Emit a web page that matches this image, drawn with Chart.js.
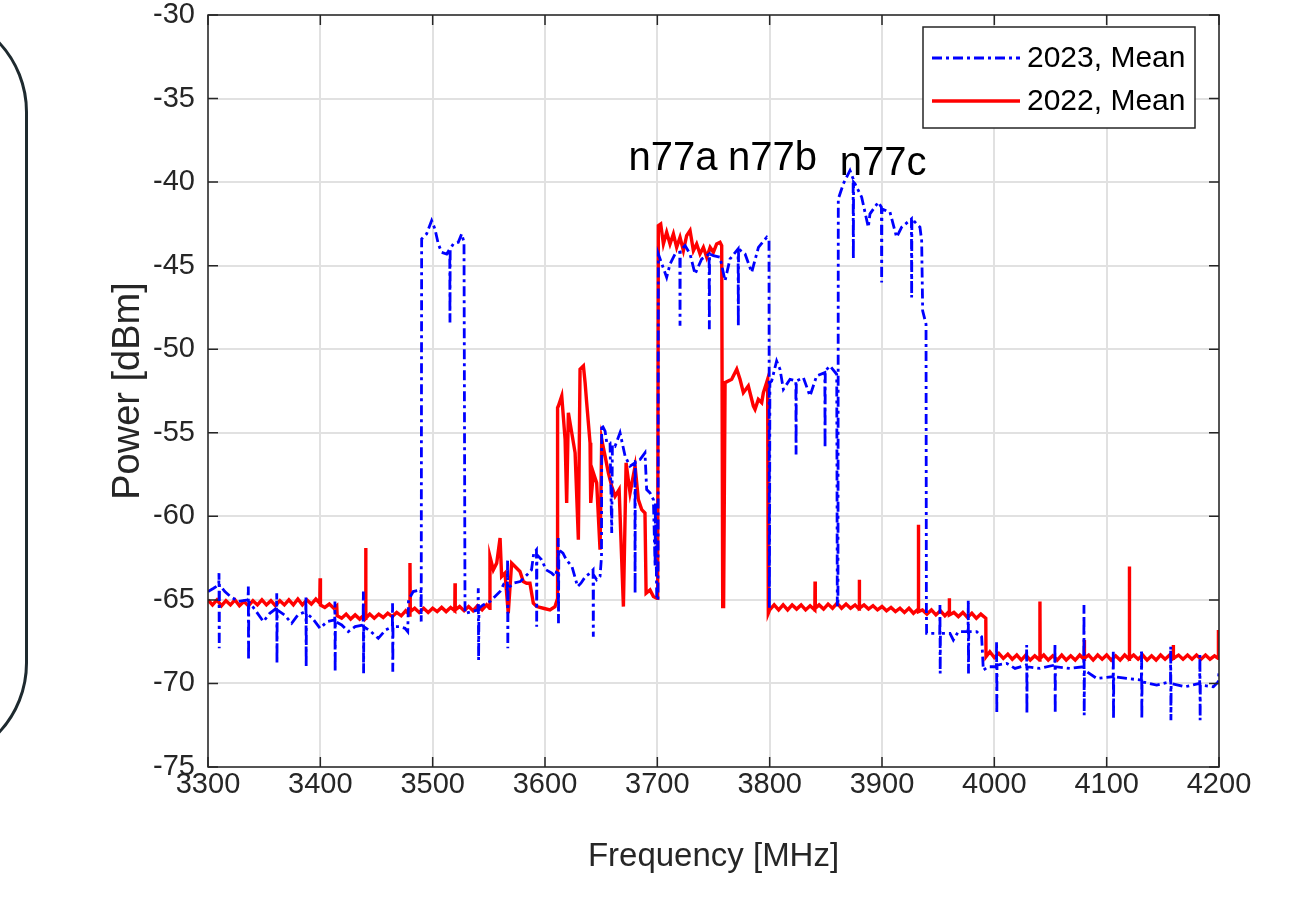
<!DOCTYPE html>
<html lang="en">

<head>
    <meta charset="UTF-8">
    <title>Spectrum Mean Power</title>
    <script src="https://cdn.jsdelivr.net/npm/chart.js@4.4.0/dist/chart.umd.min.js"></script>
    <style>
        body { margin: 0; background: #fff; overflow: hidden; }
        #wrap { position: relative; width: 1292px; height: 898px; }
        #frame {
            position: absolute; left: -178px; top: 9px; width: 200px; height: 751px;
            border: 3px solid #1e2a2f; border-radius: 110px;
        }
    </style>
</head>

<body>
    <div id="wrap">
        <div id="frame"></div>
        <canvas id="myChart" width="1292" height="898"></canvas>
    </div>

    <script>
        // axis ticks
        const freqTicks = [3300, 3400, 3500, 3600, 3700, 3800, 3900, 4000, 4100, 4200];
        const powerTicks = [-75, -70, -65, -60, -55, -50, -45, -40, -35, -30];

        const seriesNames = ['2023, Mean', '2022, Mean'];

        const bandLabels = ['n77a', 'n77b', 'n77c'];
        const bandFreq = [3714, 3802.5, 3901];
        const bandLevel = [-39.3, -39.3, -39.6];

        // 2023 mean, [MHz, dBm]
        const mean2023 = [
            [3300, -64.5], [3305, -64.3], [3309.6, -64.1], [3309.8, -63.4], [3310, -67.9], [3310.2, -64.1],
            [3315, -64.5], [3320, -64.8], [3327, -65.1], [3335.7, -65.0], [3335.9, -64.2], [3336.1, -68.6],
            [3336.3, -65.1], [3342, -65.6], [3349.3, -66.3], [3355, -65.8], [3361, -65.5], [3361.2, -64.6],
            [3361.4, -68.8], [3361.6, -65.6], [3368, -65.9], [3374.5, -66.4], [3380, -65.9], [3387, -65.7],
            [3387.2, -64.8], [3387.4, -69.0], [3387.6, -65.8], [3393, -66.1], [3399.7, -66.7], [3406, -66.3],
            [3412.8, -66.2], [3413, -65.1], [3413.2, -69.3], [3413.4, -66.3], [3419, -66.5], [3424.9, -66.9],
            [3431, -66.6], [3438.1, -66.5], [3438.3, -64.5], [3438.5, -69.4], [3438.7, -66.6], [3445, -66.9],
            [3451.6, -67.3], [3458, -66.8], [3464.1, -66.6], [3464.3, -65.2], [3464.5, -69.3], [3464.7, -66.6],
            [3470, -66.6], [3475.4, -66.7], [3477.8, -66.9], [3478.5, -65.0], [3482.7, -64.5], [3489.5, -64.4],
            [3489.8, -66.3], [3490.2, -43.4], [3494.6, -43.1], [3499.1, -42.3], [3502, -42.8], [3505, -43.7],
            [3508, -44.2], [3512.5, -44.3], [3515.2, -44.0], [3515.4, -48.4], [3515.6, -44.0], [3518.4, -43.7],
            [3522.8, -43.6], [3525.8, -43.1], [3527.9, -43.6], [3528.8, -65.8], [3535, -65.7], [3540.3, -65.6],
            [3540.6, -64.3], [3540.9, -68.6], [3541.2, -65.5], [3545, -65.3], [3551, -65.1], [3555.5, -64.8],
            [3560, -64.5], [3563, -64.1], [3566.5, -64.4], [3566.7, -62.6], [3566.9, -67.9], [3567.1, -64.3],
            [3572, -64.0], [3578, -63.9], [3584, -63.5], [3588, -63.2], [3590, -62.2], [3592.4, -62.0],
            [3592.6, -66.6], [3592.8, -62.3], [3597, -62.6], [3601, -63.2], [3606, -63.4], [3609, -63.6],
            [3611.5, -63.0], [3611.8, -61.3], [3612, -66.4], [3612.3, -62.0], [3616, -62.2], [3619, -62.6],
            [3624, -63.0], [3629, -64.2], [3632, -64.0], [3636, -63.6], [3640, -63.4], [3642.8, -63.2],
            [3643, -67.2], [3643.2, -63.5], [3646, -63.8], [3649, -63.6], [3650.3, -62.4], [3650.5, -54.5],
            [3653.5, -54.9], [3655, -55.6], [3657.9, -55.6], [3659.4, -61.0], [3660, -55.7], [3662.4, -55.8],
            [3666.8, -55.0], [3671.3, -56.4], [3675.7, -57.0], [3680, -56.8], [3680.2, -64.6], [3680.4, -56.7],
            [3684.6, -56.6], [3689, -56.2], [3690.5, -58.4], [3693.5, -58.6], [3696.5, -59.0], [3698, -63.0],
            [3698.3, -59.2], [3699.5, -65.0], [3700.6, -65.0], [3700.9, -44.3], [3708.3, -45.7], [3711.3, -44.9],
            [3715.8, -44.3], [3720, -44.2], [3720.2, -48.6], [3720.4, -44.1], [3724.7, -43.8], [3729.1, -44.3],
            [3733.6, -45.5], [3739.5, -44.6], [3746.1, -44.3], [3746.3, -48.8], [3746.5, -44.3], [3749.9, -44.4],
            [3755.8, -44.5], [3760.3, -45.9], [3764.7, -44.6], [3771.9, -44.0], [3772.1, -48.6], [3772.3, -44.0],
            [3778.1, -44.3], [3784, -45.4], [3790, -43.9], [3797.4, -43.3], [3799.4, -43.5], [3799.8, -65.5],
            [3800.2, -52.0], [3801.8, -51.9], [3806.2, -50.7], [3809.2, -51.2], [3812.2, -52.4], [3818.1, -51.8],
            [3823.3, -51.9], [3823.5, -56.3], [3823.7, -51.9], [3830, -51.7], [3835.9, -52.8], [3841.8, -51.6],
            [3849.1, -51.4], [3849.3, -55.9], [3849.5, -51.3], [3853.7, -51.0], [3859.7, -51.5], [3860.2, -65.3],
            [3860.8, -65.4], [3861.1, -41.0], [3865.6, -40.1], [3871.5, -39.3], [3874.3, -39.8], [3874.5, -44.6],
            [3874.7, -40.0], [3876, -40.1], [3881.9, -40.9], [3887.8, -42.7], [3889.3, -41.9], [3896.7, -41.2],
            [3899.5, -41.5], [3899.7, -46.0], [3899.9, -41.6], [3907.1, -41.8], [3913, -43.3], [3917.5, -42.7],
            [3926.2, -42.2], [3926.4, -46.9], [3926.6, -42.2], [3933.8, -42.7], [3935.3, -43.5], [3936.2, -47.7],
            [3939.2, -48.5], [3939.5, -65.3], [3939.7, -67.0], [3945, -67.0], [3951.4, -67.0], [3951.6, -65.3],
            [3951.8, -69.4], [3952, -67.0], [3960.5, -67.0], [3963.5, -67.4], [3967.9, -66.9], [3976.6, -66.9],
            [3976.8, -65.0], [3977, -69.4], [3977.2, -66.9], [3984.2, -66.9], [3988.7, -67.2], [3990.2, -69.2],
            [3994.6, -69.0], [4001.8, -69.0], [4002, -67.5], [4002.2, -71.8], [4002.4, -68.9], [4011, -68.8],
            [4018.4, -69.1], [4028.6, -68.9], [4028.8, -67.7], [4029, -71.8], [4029.2, -69.0], [4040.6, -69.1],
            [4053.8, -68.9], [4054, -67.6], [4054.2, -71.8], [4054.4, -69.0], [4067.3, -69.1], [4079.6, -69.0],
            [4079.8, -65.3], [4080, -71.9], [4080.2, -69.2], [4091.1, -69.7], [4105.7, -69.6], [4105.9, -68.0],
            [4106.1, -72.1], [4106.3, -69.6], [4117.8, -69.7], [4130.9, -69.8], [4131.1, -68.0], [4131.3, -72.1],
            [4131.5, -69.9], [4144.5, -70.1], [4156.8, -69.9], [4157, -67.8], [4157.2, -72.2], [4157.4, -70.0],
            [4169.7, -70.2], [4182.8, -70.0], [4183, -68.3], [4183.2, -72.2], [4183.4, -70.1], [4195, -70.2],
            [4199.4, -69.9], [4200, -69.3]
        ];

        // 2022 mean, [MHz, dBm]
        const mean2022 = [
            [3300, -65.0], [3304, -65.3], [3308, -65.0], [3312, -65.35], [3316, -65.05], [3320, -65.3],
            [3324, -65.0], [3328, -65.35], [3332, -65.1], [3336, -65.35], [3340, -65.05], [3344, -65.3],
            [3348, -65.0], [3352, -65.3], [3356, -65.05], [3360, -65.35], [3364, -65.05], [3368, -65.3],
            [3372, -65.0], [3376, -65.3], [3380, -64.95], [3384, -65.3], [3388, -65.0], [3392, -65.25],
            [3396, -64.95], [3399.5, -65.2], [3399.8, -63.7], [3400.1, -65.3], [3404, -65.45], [3408, -65.25],
            [3412, -65.5], [3414.6, -65.35], [3415, -65.95], [3419, -66.1], [3423, -65.85], [3427, -66.15],
            [3431, -65.9], [3435, -66.15], [3439, -65.9], [3440.2, -66.1], [3440.4, -61.9], [3440.6, -66.1],
            [3444, -65.85], [3448, -66.1], [3452, -65.85], [3456, -66.05], [3460, -65.8], [3464, -66.0],
            [3468, -65.75], [3472, -65.95], [3476, -65.65], [3479.6, -65.9], [3479.8, -62.8], [3480.1, -65.7],
            [3484, -65.5], [3488, -65.75], [3492, -65.5], [3496, -65.75], [3500, -65.5], [3504, -65.7],
            [3508, -65.45], [3512, -65.7], [3516, -65.45], [3519.7, -65.65], [3519.9, -64.0], [3520.1, -65.6],
            [3524, -65.4], [3528, -65.65], [3532, -65.4], [3536, -65.65], [3540, -65.35], [3544, -65.6],
            [3548, -65.3], [3550.7, -65.5], [3551, -62.4], [3554, -63.2], [3557, -62.8], [3560, -61.3],
            [3561.4, -63.6], [3564.4, -63.4], [3567.3, -65.8], [3570.3, -62.8], [3573.3, -63.0], [3577.7, -63.3],
            [3580.7, -63.9], [3583.6, -64.0], [3586.6, -64.0], [3589.6, -65.2], [3592.6, -65.4], [3598.5, -65.5],
            [3604.4, -65.6], [3608.9, -65.4], [3610.8, -65.0], [3611.2, -53.5], [3611.9, -53.4], [3614.9, -52.8],
            [3617.9, -55.4], [3619.3, -59.2], [3620.8, -53.8], [3623.8, -55.0], [3626.8, -56.2], [3629.7, -61.4],
            [3631.2, -51.2], [3634.2, -51.0], [3635.7, -52.0], [3637.1, -53.2], [3640.1, -55.6], [3640.7, -59.2],
            [3643.1, -57.4], [3646, -58.0], [3649, -62.0], [3650.5, -55.4], [3653.5, -56.4], [3656.4, -57.4],
            [3659.4, -58.2], [3662.4, -58.8], [3666, -58.4], [3669.8, -65.4], [3672.2, -56.8], [3675.7, -58.6],
            [3680.2, -57.0], [3683.1, -59.0], [3686.1, -59.6], [3689, -59.8], [3690, -64.6], [3693.5, -64.4],
            [3696.5, -64.8], [3699.5, -64.9], [3700.3, -64.9], [3700.9, -42.6], [3703, -42.5], [3705.4, -43.7],
            [3708.3, -43.0], [3711.3, -43.7], [3714.3, -43.1], [3717.2, -43.9], [3720.2, -43.3], [3723.2, -44.1],
            [3726.1, -43.2], [3729.1, -42.9], [3732.1, -44.1], [3735, -43.7], [3738, -44.3], [3741, -43.9],
            [3744, -44.5], [3747, -43.9], [3749.9, -44.2], [3752.8, -43.7], [3755.8, -43.6], [3757.3, -43.8],
            [3758.2, -65.4], [3759, -65.4], [3760.3, -52.0], [3766.2, -51.8], [3770.7, -51.2], [3773.6, -51.8],
            [3776.6, -52.6], [3781, -52.2], [3785.5, -53.4], [3787, -53.6], [3789.9, -53.0], [3792.9, -53.2],
            [3794.4, -52.6], [3797.3, -52.0], [3798.2, -51.8], [3798.8, -65.8], [3800, -65.6], [3804, -65.3],
            [3808, -65.6], [3812, -65.3], [3816, -65.6], [3820, -65.3], [3824, -65.55], [3828, -65.3],
            [3832, -65.6], [3836, -65.35], [3840.2, -65.6], [3840.4, -63.9], [3840.6, -65.5], [3844, -65.3],
            [3848, -65.55], [3852, -65.25], [3856, -65.5], [3860, -65.2], [3864, -65.5], [3868, -65.25],
            [3872, -65.5], [3876, -65.3], [3879.6, -65.55], [3879.8, -63.8], [3880, -65.5], [3884, -65.3],
            [3888, -65.55], [3892, -65.35], [3896, -65.6], [3900, -65.4], [3904, -65.65], [3908, -65.45],
            [3912, -65.7], [3916, -65.5], [3920, -65.75], [3924, -65.5], [3928, -65.8], [3932.2, -65.55],
            [3932.4, -60.5], [3932.6, -65.7], [3936, -65.6], [3940, -65.85], [3944, -65.6], [3948, -65.9],
            [3952, -65.65], [3956, -65.95], [3959.7, -65.7], [3959.9, -64.9], [3960.1, -65.9], [3964, -65.75],
            [3968, -66.0], [3972, -65.75], [3976, -66.05], [3980, -65.8], [3984, -66.1], [3988, -65.85],
            [3992.4, -66.1], [3992.6, -68.4], [3996, -68.1], [4000, -68.45], [4004, -68.2], [4008, -68.5],
            [4012, -68.25], [4016, -68.55], [4020, -68.3], [4024, -68.6], [4028, -68.3], [4032, -68.6],
            [4036, -68.35], [4040.4, -68.6], [4040.6, -65.1], [4040.8, -68.5], [4044, -68.3], [4048, -68.6],
            [4052, -68.35], [4056, -68.6], [4060, -68.3], [4064, -68.6], [4068, -68.35], [4072, -68.6],
            [4076, -68.3], [4079.9, -68.55], [4080.1, -67.4], [4080.3, -68.5], [4084, -68.3], [4088, -68.6],
            [4092, -68.3], [4096, -68.55], [4100, -68.3], [4104, -68.6], [4108, -68.35], [4112, -68.6],
            [4116, -68.3], [4120, -68.55], [4120.2, -63.0], [4120.4, -68.5], [4124, -68.3], [4128, -68.55],
            [4132, -68.3], [4136, -68.6], [4140, -68.35], [4144, -68.6], [4148, -68.3], [4152, -68.55],
            [4156, -68.3], [4159.1, -68.5], [4159.3, -67.7], [4159.5, -68.5], [4164, -68.3], [4168, -68.55],
            [4172, -68.3], [4176, -68.55], [4180, -68.3], [4184, -68.55], [4188, -68.3], [4192, -68.55],
            [4196, -68.35], [4199.2, -68.5], [4199.5, -66.9], [4200, -66.9]
        ];

        const AXIS = '#262626';
        const FONT = "'Liberation Sans', Arial, sans-serif";

        // box, inward ticks, legend and band labels drawn over the data
        const overlay = {
            id: 'overlay',
            afterDatasetsDraw(chart) {
                const ctx = chart.ctx;
                const a = chart.chartArea;
                const xs = chart.scales.x, ys = chart.scales.y;
                ctx.save();
                ctx.strokeStyle = AXIS;
                ctx.lineWidth = 1.5;
                ctx.strokeRect(a.left, a.top, a.right - a.left, a.bottom - a.top);
                ctx.beginPath();
                freqTicks.forEach(f => {
                    const px = xs.getPixelForValue(f);
                    ctx.moveTo(px, a.bottom); ctx.lineTo(px, a.bottom - 10);
                    ctx.moveTo(px, a.top); ctx.lineTo(px, a.top + 10);
                });
                powerTicks.forEach(p => {
                    const py = ys.getPixelForValue(p);
                    ctx.moveTo(a.left, py); ctx.lineTo(a.left + 10, py);
                    ctx.moveTo(a.right, py); ctx.lineTo(a.right - 10, py);
                });
                ctx.stroke();

                // band labels
                ctx.fillStyle = '#000';
                ctx.font = '40px ' + FONT;
                ctx.textAlign = 'center';
                ctx.textBaseline = 'alphabetic';
                bandLabels.forEach((t, i) => {
                    ctx.fillText(t, xs.getPixelForValue(bandFreq[i]), ys.getPixelForValue(bandLevel[i]));
                });

                // legend box
                const bw = 272, bh = 101;
                const bx = a.right - 24 - bw, by = a.top + 12;
                ctx.fillStyle = '#fff';
                ctx.fillRect(bx, by, bw, bh);
                ctx.strokeStyle = AXIS;
                ctx.lineWidth = 1.5;
                ctx.strokeRect(bx, by, bw, bh);
                ctx.font = '30px ' + FONT;
                ctx.textAlign = 'left';
                ctx.textBaseline = 'middle';
                chart.data.datasets.forEach((ds, i) => {
                    const ly = by + 31 + i * 43;
                    ctx.beginPath();
                    ctx.strokeStyle = ds.borderColor;
                    ctx.lineWidth = ds.borderWidth;
                    ctx.setLineDash(ds.borderDash || []);
                    ctx.moveTo(bx + 9, ly); ctx.lineTo(bx + 97, ly);
                    ctx.stroke();
                    ctx.setLineDash([]);
                    ctx.fillStyle = '#000';
                    ctx.fillText(seriesNames[i], bx + 104, ly + 1);
                });
                ctx.restore();
            }
        };

        const toXY = arr => arr.map(d => ({ x: d[0], y: d[1] }));

        const ctx = document.getElementById('myChart').getContext('2d');
        let lineChart = new Chart(ctx, {
            type: 'line',
            data: {
                datasets: [
                    {
                        label: seriesNames[0],
                        data: toXY(mean2023),
                        borderColor: '#0000ff',
                        borderWidth: 2.8,
                        borderDash: [10, 4, 3, 4],
                        pointRadius: 0,
                        tension: 0
                    },
                    {
                        label: seriesNames[1],
                        data: toXY(mean2022),
                        borderColor: '#ff0000',
                        borderWidth: 3.4,
                        pointRadius: 0,
                        tension: 0
                    }]
            },
            options: {
                responsive: false,
                animation: false,
                devicePixelRatio: 1,
                layout: { padding: { top: 15, right: 73, bottom: 0, left: 0 } },
                plugins: {
                    legend: { display: false },
                    tooltip: { enabled: false }
                },
                scales: {
                    x: {
                        type: 'linear',
                        min: 3300,
                        max: 4200,
                        afterBuildTicks: s => { s.ticks = freqTicks.map(v => ({ value: v })); },
                        afterFit: s => { s.height = 131; },
                        ticks: {
                            color: AXIS,
                            font: { family: FONT, size: 29, lineHeight: 1 },
                            padding: 3,
                            maxRotation: 0,
                            callback: v => String(v)
                        },
                        grid: { color: '#e1e1e1', lineWidth: 2, drawTicks: false },
                        border: { display: false },
                        title: {
                            display: true,
                            text: 'Frequency [MHz]',
                            color: AXIS,
                            font: { family: FONT, size: 33 },
                            padding: { top: 0, bottom: 21 }
                        }
                    },
                    y: {
                        min: -75,
                        max: -30,
                        afterBuildTicks: s => { s.ticks = powerTicks.map(v => ({ value: v })); },
                        afterFit: s => { s.width = 208; s.paddingTop = 0; s.paddingBottom = 0; },
                        ticks: {
                            color: AXIS,
                            font: { family: FONT, size: 29, lineHeight: 1 },
                            padding: 13,
                            callback: v => String(v)
                        },
                        grid: { color: '#e1e1e1', lineWidth: 2, drawTicks: false },
                        border: { display: false },
                        title: {
                            display: true,
                            text: 'Power [dBm]',
                            color: AXIS,
                            font: { family: FONT, size: 38 },
                            padding: { top: 106, bottom: 0 }
                        }
                    }
                }
            },
            plugins: [overlay]
        });
    </script>
</body>

</html>
